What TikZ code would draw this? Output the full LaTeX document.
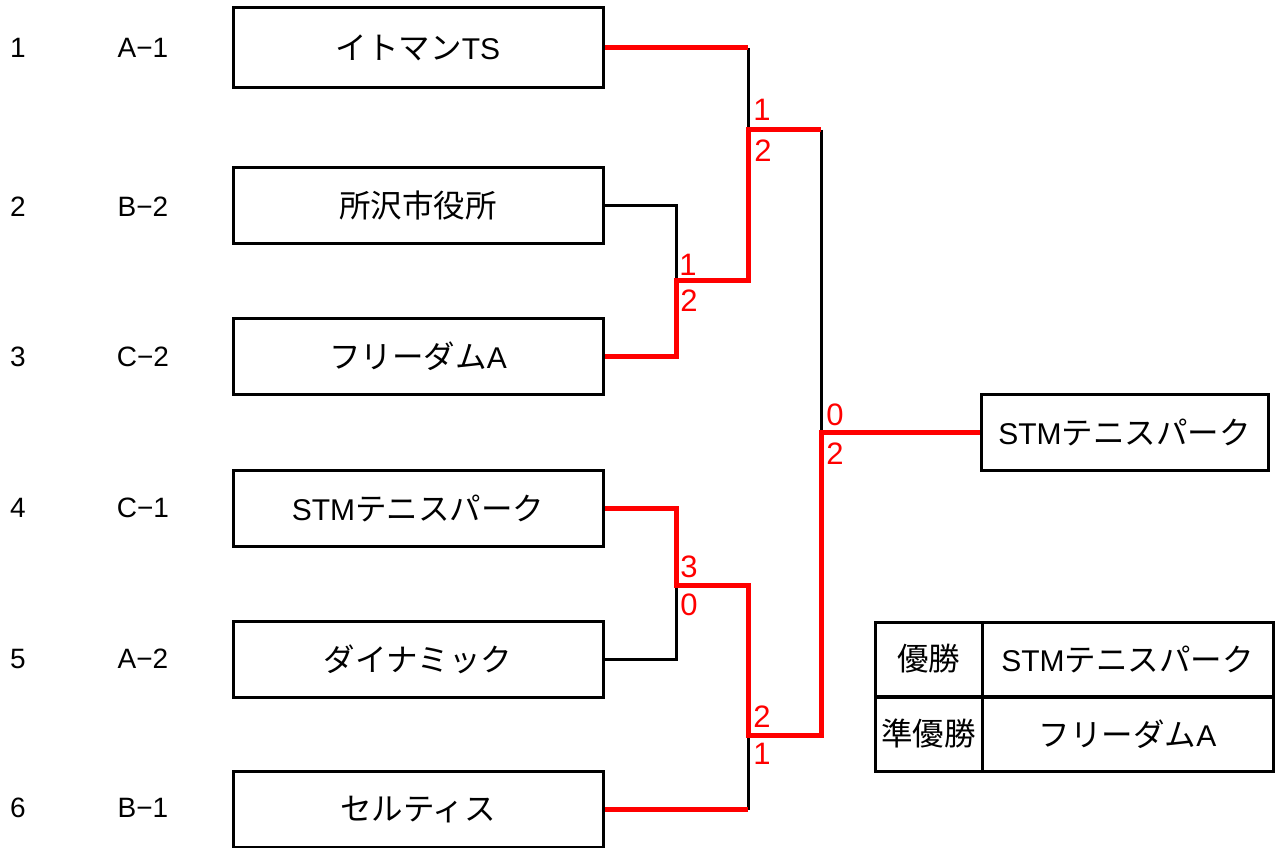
\documentclass[tikz,border=0pt]{standalone}
\usepackage{fontspec}
\setmainfont{Liberation Sans}
\newfontfamily\jp{Noto Sans CJK JP}[Scale=1.05]
\begin{document}
\begin{tikzpicture}[x=1pt,y=-1pt,
  rowtxt/.style={font=\fontsize{28}{32}\selectfont,inner sep=0pt},
  txt/.style={font=\fontsize{30}{34}\selectfont,inner sep=0pt},
  team/.style={txt,draw,line width=3pt,minimum width=370pt,minimum height=76pt},
  cell/.style={txt,draw,line width=3pt,minimum height=74pt},
  win/.style={red,line width=5pt},
  lose/.style={black,line width=3pt},
  sc/.style={red,font=\fontsize{31}{34}\selectfont,inner sep=0pt}]
\useasboundingbox (0,0) rectangle (1279,848);

% row labels
\node[rowtxt] (n1) at (18,48) {1};
\node[rowtxt] (n2) at (18,207) {2};
\node[rowtxt] (n3) at (18,357) {3};
\node[rowtxt] (n4) at (18,508) {4};
\node[rowtxt] (n5) at (18,659) {5};
\node[rowtxt] (n6) at (18,808) {6};
\node[rowtxt] (g1) at (143,48) {A−1};
\node[rowtxt] (g2) at (143,207) {B−2};
\node[rowtxt] (g3) at (143,357) {C−2};
\node[rowtxt] (g4) at (143,508) {C−1};
\node[rowtxt] (g5) at (143,659) {A−2};
\node[rowtxt] (g6) at (143,808) {B−1};

% team boxes
\node[team,minimum height=80pt] (b1) at (418,48) {{\jp イトマン}TS};
\node[team] (b2) at (418,205.5) {{\jp 所沢市役所}};
\node[team] (b3) at (418,356.5) {{\jp フリーダム}A};
\node[team] (b4) at (418,508.5) {STM{\jp テニスパーク}};
\node[team] (b5) at (418,659.5) {{\jp ダイナミック}};
\node[team] (b6) at (418,809.5) {{\jp セルティス}};

\node[team,minimum width=287pt] (fin) at (1124.5,432) {STM{\jp テニスパーク}};

% junctions
\coordinate (j12) at (676,280);
\coordinate (j1) at (748,130);
\coordinate (s1) at (821,130);
\coordinate (jS) at (821,432);
\coordinate (j45) at (676,585);
\coordinate (j6) at (748,735);
\coordinate (s2) at (821,735);

% losing lines
\draw[lose] (b1.east -| j1) -- (j1);
\draw[lose] (b2.east) -| (j12);
\draw[lose] (s1) -- (jS);
\draw[lose] (b5.east) -| (j45);
\draw[lose] (b6.east -| j6) -- (j6);

% winning lines
\draw[win] (b1.east) -- (b1.east -| j1);
\draw[win] (b3.east) -| (j12) -| (j1) -- (s1);
\draw[win] (b4.east) -| (j45) -| (j6) -- (s2) -- (jS) -- (fin.west);
\draw[win] (b6.east) -- (b6.east -| j6);

% scores
\node[sc] (r1) at (762,110) {1};
\node[sc] (r2) at (763,151) {2};
\node[sc] (r3) at (688,265) {1};
\node[sc] (r4) at (689,301) {2};
\node[sc] (r5) at (835,415) {0};
\node[sc] (r6) at (835,454) {2};
\node[sc] (r7) at (689,567) {3};
\node[sc] (r8) at (689,605) {0};
\node[sc] (r9) at (762,717) {2};
\node[sc] (r10) at (762,754) {1};

% result table
\node[cell,minimum width=107pt] (c11) at (928.5,659) {{\jp 優勝}};
\node[cell,minimum width=291pt] (c12) at (1127.5,659) {STM{\jp テニスパーク}};
\node[cell,minimum width=107pt] (c21) at (928.5,734) {{\jp 準優勝}};
\node[cell,minimum width=291pt] (c22) at (1127.5,734) {{\jp フリーダム}A};
\end{tikzpicture}
\end{document}
